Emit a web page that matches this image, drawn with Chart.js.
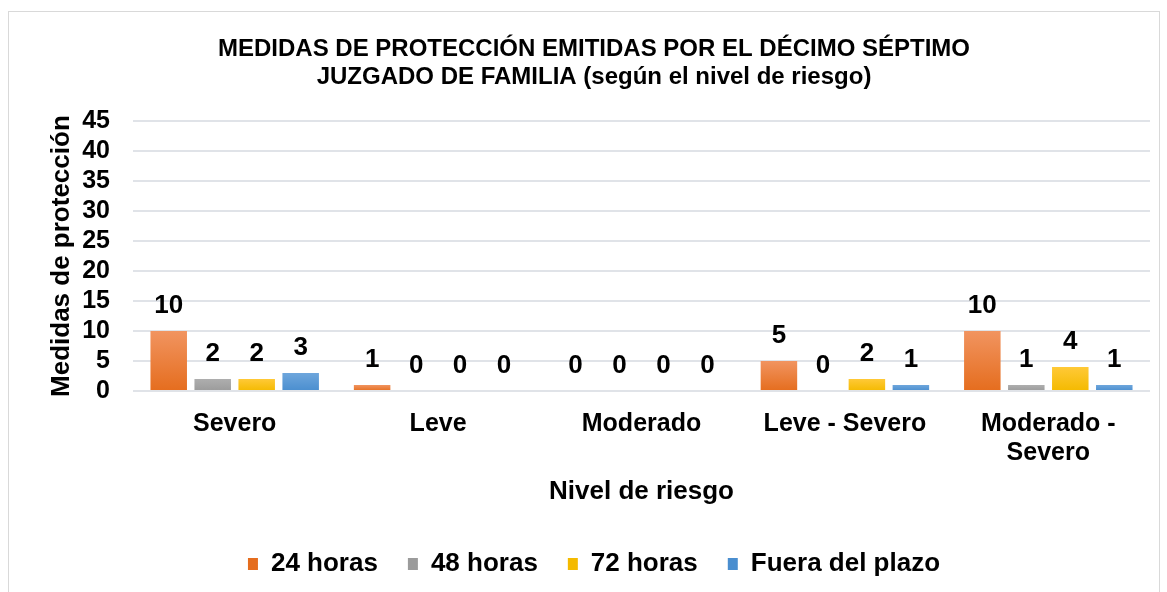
<!DOCTYPE html>
<html>
<head>
<meta charset="utf-8">
<script src="https://cdn.jsdelivr.net/npm/chart.js@4.4.0/dist/chart.umd.min.js"></script>
<style>
  html, body { margin: 0; padding: 0; background: #fff; }
  canvas { display: block; }
</style>
</head>
<body>
<canvas id="chart" width="1167" height="592"></canvas>
<script>
// values
const niveles = ['Severo', 'Leve', 'Moderado', 'Leve - Severo', ['Moderado -', 'Severo']];
const horas24 = [10, 1, 0, 5, 10];
const horas48 = [2, 0, 0, 0, 1];
const horas72 = [2, 0, 0, 2, 4];
const fueraPlazo = [3, 0, 0, 1, 1];
const yTicks = [0, 5, 10, 15, 20, 25, 30, 35, 40, 45];

const FONT = 'Arial, "Liberation Sans", sans-serif';

// top lighter, bottom darker, like the office bars
function barFill(base, light, dark) {
  return (c) => {
    const area = c.chart.chartArea;
    if (!area || c.type !== 'data') return base;
    const top = c.chart.scales.y.getPixelForValue(c.parsed.y);
    if (!(area.bottom - top > 1)) return base;
    const g = c.chart.ctx.createLinearGradient(0, top, 0, area.bottom);
    g.addColorStop(0, light);
    g.addColorStop(1, dark);
    return g;
  };
}

const frame = {
  id: 'frame',
  beforeDraw(chart) {
    const ctx = chart.ctx;
    ctx.save();
    ctx.fillStyle = '#fff';
    ctx.fillRect(0, 0, chart.width, chart.height);
    ctx.strokeStyle = '#d9d9d9';
    ctx.lineWidth = 1;
    ctx.strokeRect(8.5, 11.5, 1151, 600);
    ctx.restore();
  }
};

const valueLabels = {
  id: 'valueLabels',
  afterDatasetsDraw(chart) {
    const ctx = chart.ctx;
    ctx.save();
    ctx.font = 'bold 26px ' + FONT;
    ctx.fillStyle = '#000';
    ctx.textAlign = 'center';
    ctx.textBaseline = 'middle';
    chart.data.datasets.forEach((ds, i) => {
      chart.getDatasetMeta(i).data.forEach((bar, j) => {
        ctx.fillText(String(ds.data[j]), bar.x, bar.y - 25);
      });
    });
    ctx.restore();
  }
};

new Chart(document.getElementById('chart').getContext('2d'), {
  type: 'bar',
  data: {
    labels: niveles,
    datasets: [
      { label: '24 horas', data: horas24, backgroundColor: barFill('#ED7D31', '#F19460', '#E56D1E') },
      { label: '48 horas', data: horas48, backgroundColor: barFill('#A5A5A5', '#AEAEAE', '#9B9B9B') },
      { label: '72 horas', data: horas72, backgroundColor: barFill('#FFC000', '#FFC937', '#F4BA00') },
      { label: 'Fuera del plazo', data: fueraPlazo, backgroundColor: barFill('#5B9BD5', '#6EA6DC', '#4A8ECF') }
    ]
  },
  options: {
    responsive: false,
    animation: false,
    devicePixelRatio: 1,
    categoryPercentage: 0.865,
    barPercentage: 0.83,
    layout: { padding: { left: 38, right: 17, top: 0, bottom: 5 } },
    plugins: {
      title: {
        display: true,
        text: ['MEDIDAS DE PROTECCIÓN EMITIDAS POR EL DÉCIMO SÉPTIMO', 'JUZGADO DE FAMILIA (según el nivel de riesgo)'],
        color: '#000',
        font: { family: FONT, size: 24, weight: 'bold', lineHeight: 1.17 },
        padding: { top: 35, bottom: 30 }
      },
      legend: {
        position: 'bottom',
        labels: {
          color: '#000',
          font: { family: FONT, size: 26, weight: 'bold' },
          boxWidth: 10,
          boxHeight: 12,
          padding: 30
        }
      },
      tooltip: { enabled: false }
    },
    scales: {
      x: {
        grid: { display: false, drawTicks: false },
        border: { display: false },
        ticks: {
          color: '#000',
          font: { family: FONT, size: 25, weight: 'bold', lineHeight: 1.16 },
          padding: 19,
          maxRotation: 0,
          autoSkip: false
        },
        title: {
          display: true,
          text: 'Nivel de riesgo',
          color: '#000',
          font: { family: FONT, size: 26, weight: 'bold' },
          padding: { top: 0, bottom: 14 }
        },
        afterFit(s) { s.height = 130; }
      },
      y: {
        min: 0,
        max: 45,
        afterBuildTicks(s) { s.ticks = yTicks.map(v => ({ value: v })); },
        grid: { color: '#e0e3e8', lineWidth: 2, drawTicks: false },
        border: { display: false },
        ticks: {
          color: '#000',
          font: { family: FONT, size: 25, weight: 'bold' },
          padding: 23,
          autoSkip: false
        },
        title: {
          display: true,
          text: 'Medidas de protección',
          color: '#000',
          font: { family: FONT, size: 26, weight: 'bold' },
          padding: { top: 8, bottom: 0 }
        },
        afterFit(s) { s.width = 95; }
      }
    }
  },
  plugins: [frame, valueLabels]
});
</script>
</body>
</html>
